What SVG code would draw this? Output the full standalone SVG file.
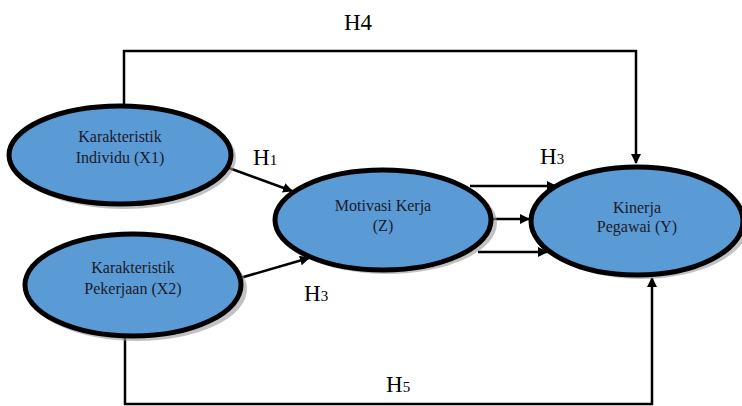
<svg xmlns="http://www.w3.org/2000/svg" width="742" height="406" viewBox="0 0 742 406">
<style>
.node{fill:#5b9bd5;stroke:#000;stroke-width:5}
.shadow{fill:#9a9a9a;opacity:0.6}
.t{font-family:"Liberation Serif","Times New Roman",serif;font-size:16px;fill:#1a1a2a;text-anchor:middle}
.h{font-family:"Liberation Serif","Times New Roman",serif;font-size:23px;fill:#000}
.sub{font-size:15px}
.c{fill:none;stroke:#000;stroke-width:2.5}
</style>
<defs>
<marker id="arr" markerWidth="10" markerHeight="10" refX="9" refY="5" orient="auto" markerUnits="userSpaceOnUse" viewBox="0 0 10 10">
<path d="M0,0 L10,5 L0,10 z" fill="#000"/>
</marker>
</defs>
<g id="connectors">
<polyline class="c" points="124,104 124,51 636,51 636,163" marker-end="url(#arr)"/>
<polyline class="c" points="125,338 125,404 652,404 652,278" marker-end="url(#arr)"/>
<line class="c" x1="229" y1="168" x2="292" y2="191" marker-end="url(#arr)"/>
<line class="c" x1="240" y1="278" x2="309" y2="258" marker-end="url(#arr)"/>
<line class="c" x1="470" y1="186" x2="556" y2="186" marker-end="url(#arr)"/>
<line class="c" x1="492" y1="219" x2="529" y2="219" marker-end="url(#arr)"/>
<line class="c" x1="478" y1="252" x2="547" y2="252" marker-end="url(#arr)"/>
</g>
<g id="x1">
<ellipse class="shadow" cx="124" cy="158" rx="112" ry="51"/>
<ellipse class="node" cx="120" cy="155" rx="111" ry="49"/>
<text class="t" x="120" y="142">Karakteristik</text>
<text class="t" x="120" y="163">Individu (X1)</text>
</g>
<g id="x2">
<ellipse class="shadow" cx="137" cy="289" rx="110" ry="52"/>
<ellipse class="node" cx="133" cy="285" rx="108" ry="51"/>
<text class="t" x="133" y="273">Karakteristik</text>
<text class="t" x="133" y="294">Pekerjaan (X2)</text>
</g>
<g id="z">
<ellipse class="shadow" cx="387" cy="223" rx="110" ry="51"/>
<ellipse class="node" cx="383" cy="220" rx="108" ry="50"/>
<text class="t" x="383" y="211">Motivasi Kerja</text>
<text class="t" x="383" y="231">(Z)</text>
</g>
<g id="y">
<ellipse class="shadow" cx="641" cy="224" rx="108" ry="55"/>
<ellipse class="node" cx="637" cy="221" rx="106" ry="54"/>
<text class="t" x="637" y="213">Kinerja</text>
<text class="t" x="637" y="232">Pegawai (Y)</text>
</g>
<g id="labels">
<text class="h" x="344" y="30">H4</text>
<text class="h" x="253" y="165">H<tspan class="sub">1</tspan></text>
<text class="h" x="540" y="164">H<tspan class="sub">3</tspan></text>
<text class="h" x="304" y="301">H<tspan class="sub">3</tspan></text>
<text class="h" x="386" y="392">H<tspan class="sub">5</tspan></text>
</g>
</svg>
